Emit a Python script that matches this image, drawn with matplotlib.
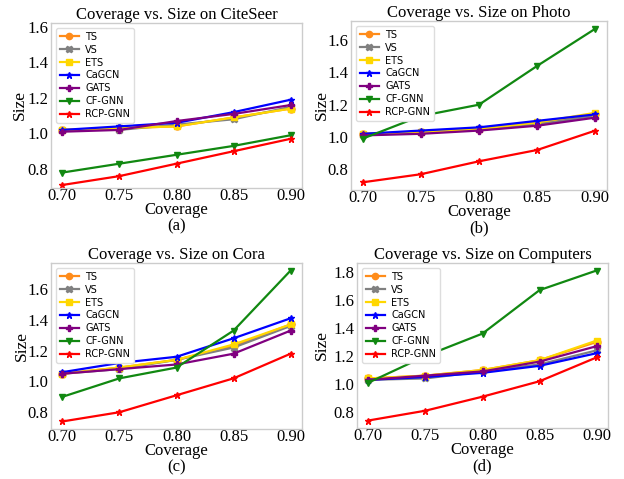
import matplotlib
matplotlib.use("Agg")
import matplotlib.pyplot as plt
from matplotlib.ticker import MultipleLocator, FormatStrFormatter
from matplotlib.transforms import offset_copy

coverage = [0.70, 0.75, 0.80, 0.85, 0.90]
methods = ["TS", "VS", "ETS", "CaGCN", "GATS", "CF-GNN", "RCP-GNN"]
colors = ["#ff8c1a", "#808080", "#ffd700", "#0000ff", "#800080", "#118811", "#ff0000"]
markers = ["o", "X", "s", "*", "P", "v", "*"]

citeseer = {
    "TS": [1.02, 1.03, 1.04, 1.09, 1.14],
    "VS": [1.02, 1.02, 1.05, 1.08, 1.15],
    "ETS": [1.02, 1.03, 1.04, 1.09, 1.14],
    "CaGCN": [1.02, 1.04, 1.06, 1.12, 1.19],
    "GATS": [1.01, 1.02, 1.07, 1.11, 1.16],
    "CF-GNN": [0.78, 0.83, 0.88, 0.93, 0.99],
    "RCP-GNN": [0.71, 0.76, 0.83, 0.90, 0.97],
}
photo = {
    "TS": [1.02, 1.03, 1.05, 1.08, 1.14],
    "VS": [1.01, 1.03, 1.05, 1.08, 1.13],
    "ETS": [1.02, 1.03, 1.05, 1.09, 1.15],
    "CaGCN": [1.02, 1.04, 1.06, 1.10, 1.14],
    "GATS": [1.01, 1.02, 1.04, 1.07, 1.12],
    "CF-GNN": [0.99, 1.13, 1.20, 1.44, 1.67],
    "RCP-GNN": [0.72, 0.77, 0.85, 0.92, 1.04],
}
cora = {
    "TS": [1.05, 1.09, 1.14, 1.23, 1.37],
    "VS": [1.05, 1.08, 1.14, 1.22, 1.36],
    "ETS": [1.05, 1.09, 1.14, 1.24, 1.37],
    "CaGCN": [1.06, 1.12, 1.16, 1.28, 1.41],
    "GATS": [1.05, 1.08, 1.11, 1.18, 1.33],
    "CF-GNN": [0.90, 1.02, 1.09, 1.33, 1.72],
    "RCP-GNN": [0.74, 0.80, 0.91, 1.02, 1.18],
}
computers = {
    "TS": [1.04, 1.06, 1.10, 1.17, 1.30],
    "VS": [1.03, 1.04, 1.09, 1.14, 1.24],
    "ETS": [1.04, 1.06, 1.10, 1.17, 1.31],
    "CaGCN": [1.03, 1.05, 1.08, 1.13, 1.22],
    "GATS": [1.03, 1.06, 1.09, 1.16, 1.27],
    "CF-GNN": [1.01, 1.20, 1.36, 1.67, 1.81],
    "RCP-GNN": [0.74, 0.81, 0.91, 1.02, 1.19],
}

# name, data, sub-caption, axes box in pixels (left, top, right, bottom), ylim, ylabel offset px
panels = [
    ("CiteSeer", citeseer, "(a)", [51, 23, 302, 188], (0.693, 1.622), 31),
    ("Photo", photo, "(b)", [351, 21, 607, 190], None, 29),
    ("Cora", cora, "(c)", [51, 263, 302, 429], None, 29),
    ("Computers", computers, "(d)", [357, 263, 608, 428], None, 35),
]

W, H = 624, 479
serif = ["Liberation Serif", "DejaVu Serif"]

fig = plt.figure(figsize=(W / 100, H / 100), dpi=100)

for name, data, tag, (x0, y0, x1, y1), ylim, yoff in panels:
    ax = fig.add_axes([x0 / W, 1 - y1 / H, (x1 - x0) / W, (y1 - y0) / H])
    for m, c, mk in zip(methods, colors, markers):
        ax.plot(coverage, data[m], color=c, marker=mk, markersize=5,
                linewidth=1.6, label=m)
    if ylim is not None:
        ax.set_ylim(*ylim)
    ax.set_xticks(coverage)
    ax.set_xticklabels([f"{v:.2f}" for v in coverage])
    ax.yaxis.set_major_locator(MultipleLocator(0.2))
    ax.yaxis.set_major_formatter(FormatStrFormatter("%.1f"))
    for lab in ax.get_xticklabels() + ax.get_yticklabels():
        lab.set_fontfamily(serif)
        lab.set_fontsize(12)
    ax.tick_params(axis="x", length=0, pad=0)
    ax.tick_params(axis="y", length=0, pad=2)
    for s in ax.spines.values():
        s.set_color("#cccccc")
        s.set_linewidth(1.0)
    ax.set_title(f"Coverage vs. Size on {name}", family=serif, fontsize=12, pad=3)
    ax.text(0, 0.5, "Size", rotation=90, ha="center", va="center",
            family=serif, fontsize=12.5,
            transform=offset_copy(ax.transAxes, fig=fig, x=-yoff, y=0, units="dots"))
    ax.text(0.5, 0, "Coverage", ha="center", va="center", family=serif, fontsize=12,
            transform=offset_copy(ax.transAxes, fig=fig, x=0, y=-22, units="dots"))
    ax.text(0.5, 0, tag, ha="center", va="center", family=serif, fontsize=12,
            transform=offset_copy(ax.transAxes, fig=fig, x=0, y=-38, units="dots"))
    ax.legend(loc="upper left", fontsize=7, labelspacing=0.3,
              handlelength=2.0, handletextpad=0.6, borderpad=0.4,
              framealpha=1, edgecolor="#dddddd", markerscale=0.9)

fig.savefig("out.png", dpi=100)
